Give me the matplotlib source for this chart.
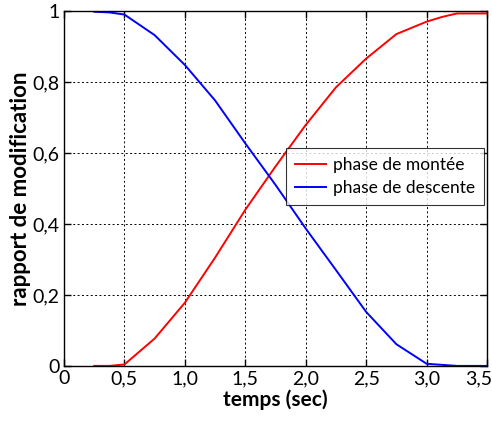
import matplotlib
matplotlib.use("Agg")
import matplotlib.pyplot as plt
from matplotlib.ticker import FuncFormatter
from matplotlib.transforms import ScaledTranslation

# time samples (sec)
temps = [0.25, 0.375, 0.5, 0.75, 1.0, 1.25, 1.5, 1.75, 2.0, 2.25, 2.5, 2.75, 3.0, 3.125, 3.25, 3.5]
# rising phase ratio
montee = [0.0, 0.0, 0.004, 0.077, 0.178, 0.305, 0.44, 0.562, 0.679, 0.785, 0.866, 0.935, 0.97, 0.983, 0.993, 0.993]
# falling phase ratio
descente = [0.998, 0.996, 0.99, 0.932, 0.848, 0.748, 0.627, 0.51, 0.387, 0.27, 0.152, 0.061, 0.006, 0.003, 0.0, 0.0]

xticks = [0, 0.5, 1.0, 1.5, 2.0, 2.5, 3.0, 3.5]
yticks = [0, 0.2, 0.4, 0.6, 0.8, 1.0]

plt.rcParams['font.family'] = ['Lato', 'DejaVu Sans']

fig = plt.figure(figsize=(4.92, 4.23), dpi=100)
ax = fig.add_axes([0.130, 0.135, 0.860, 0.839])

ax.plot(temps, montee, color='#ff0000', lw=1.4, label='phase de montée')
ax.plot(temps, descente, color='#0000ff', lw=1.4, label='phase de descente')

ax.set_xlim(0, 3.5)
ax.set_ylim(0, 1)
ax.set_xticks(xticks)
ax.set_yticks(yticks)

def virgule_x(v, pos):
    if abs(v) < 1e-9:
        return '0'
    return f'{v:.1f}'.replace('.', ',')

def virgule_y(v, pos):
    if abs(v) < 1e-9:
        return '0'
    if abs(v - 1) < 1e-9:
        return '1'
    return f'{v:.1f}'.replace('.', ',')

ax.xaxis.set_major_formatter(FuncFormatter(virgule_x))
ax.yaxis.set_major_formatter(FuncFormatter(virgule_y))

ax.tick_params(direction='in', top=True, right=True, length=5, width=1,
               labelsize=14, colors='black')
ax.tick_params(axis='x', pad=3)
ax.tick_params(axis='y', pad=3)
ax.grid(True, color='black', linestyle=(0, (2, 2.5)), linewidth=0.7)
for s in ax.spines.values():
    s.set_linewidth(1.0)
    s.set_color('black')

# keep the last x tick label inside the canvas
last_tick = ax.xaxis.get_major_ticks()[len(xticks) - 1]
last_tick.label1.set_transform(last_tick.label1.get_transform()
                               + ScaledTranslation(-8 / 100, 0, fig.dpi_scale_trans))

ax.set_xlabel('temps (sec)', fontsize=15, fontweight='bold', labelpad=2)
ax.set_ylabel('rapport de modification', fontsize=16, fontweight='bold', labelpad=1)

leg = ax.legend(loc='upper right', bbox_to_anchor=(0.993, 0.614), fontsize=12.5,
                frameon=True, fancybox=False, edgecolor='black',
                handlelength=1.8, borderpad=0.5, labelspacing=0.45,
                handletextpad=0.4, borderaxespad=0.0)
leg.get_frame().set_linewidth(0.8)

fig.savefig('out.png', dpi=100)
